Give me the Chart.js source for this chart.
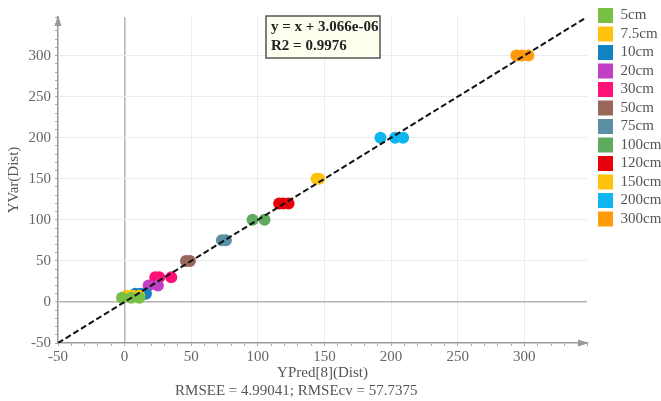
<!DOCTYPE html>
<html>
<head>
<meta charset="utf-8">
<script src="https://cdn.jsdelivr.net/npm/chart.js@4/dist/chart.umd.min.js"></script>
<style>
  html, body { margin: 0; padding: 0; background: #ffffff; }
  #wrap { width: 661px; height: 401px; }
</style>
</head>
<body>
<div id="wrap"><canvas id="c" width="661" height="401"></canvas></div>
<script>
// ---- Data ----
const categories = ['5cm', '7.5cm', '10cm', '20cm', '30cm', '50cm', '75cm', '100cm', '120cm', '150cm', '200cm', '300cm'];
const actualDist = [5, 7.5, 10, 20, 30, 50, 75, 100, 120, 150, 200, 300];
const pred5cm = [-2, 5, 11];
const pred7_5cm = [1.5, 6, 11];
const pred10cm = [8, 12, 16];
const pred20cm = [18, 25];
const pred30cm = [23, 26, 35];
const pred50cm = [46, 49];
const pred75cm = [73, 76];
const pred100cm = [96, 105];
const pred120cm = [116, 119, 123];
const pred150cm = [144, 146];
const pred200cm = [192, 203, 209];
const pred300cm = [294, 298, 303];
const predicted = [pred5cm, pred7_5cm, pred10cm, pred20cm, pred30cm, pred50cm, pred75cm, pred100cm, pred120cm, pred150cm, pred200cm, pred300cm];
const seriesColors = ['#78bf45', '#ffc20e', '#1282c4', '#c13fc4', '#ff1178', '#9a685a', '#5b8fa3', '#5eaa5f', '#e8000b', '#ffc20e', '#0fb6ee', '#ff9a0a'];
const tickLabels = [-50, 0, 50, 100, 150, 200, 250, 300];
const axisMin = -50;
const axisMax = 347;
const fitSlope = 1;
const fitIntercept = 3.066e-06;
const fitText = ['y = x + 3.066e-06', 'R2 = 0.9976'];
const xTitle = 'YPred[8](Dist)';
const xSubTitle = 'RMSEE = 4.99041; RMSEcv = 57.7375';
const yTitle = 'YVar(Dist)';

const SERIF = "'Liberation Serif', 'Times New Roman', serif";

const datasets = categories.map((name, i) => ({
  label: name,
  data: predicted[i].map(p => ({ x: p, y: actualDist[i] })),
  backgroundColor: seriesColors[i],
  borderColor: seriesColors[i],
  borderWidth: 0,
  pointRadius: 6,
  pointHoverRadius: 6,
  order: 1
}));
datasets.push({
  type: 'line',
  label: 'fit',
  data: [axisMin, axisMax].map(v => ({ x: v, y: fitSlope * v + fitIntercept })),
  borderColor: '#111',
  borderWidth: 2,
  borderDash: [6, 3],
  pointRadius: 0,
  fill: false,
  order: -1
});

function gridColor(ctx) {
  const v = ctx.tick ? ctx.tick.value : null;
  if (v === 0) return '#b4b4b4';
  if (v !== null && tickLabels.includes(v) && v !== axisMin) return '#ececec';
  return 'rgba(0,0,0,0)';
}
function gridWidth(ctx) {
  const v = ctx.tick ? ctx.tick.value : null;
  return v === 0 ? 1.5 : 1;
}
function tickCb(v) {
  return tickLabels.includes(v) ? String(v) : '';
}

const decorPlugin = {
  id: 'decor',
  afterDraw(chart) {
    const { ctx, chartArea: a } = chart;
    ctx.save();
    // axis arrows
    ctx.fillStyle = '#999';
    ctx.beginPath();
    ctx.moveTo(a.left, a.top - 2);
    ctx.lineTo(a.left - 3.5, a.top + 9);
    ctx.lineTo(a.left + 3.5, a.top + 9);
    ctx.closePath();
    ctx.fill();
    ctx.beginPath();
    ctx.moveTo(a.right + 2, a.bottom);
    ctx.lineTo(a.right - 9, a.bottom - 3.5);
    ctx.lineTo(a.right - 9, a.bottom + 3.5);
    ctx.closePath();
    ctx.fill();
    // equation box
    const bx = 266, by = 16, bw = 114, bh = 42;
    ctx.fillStyle = '#fffff0';
    ctx.fillRect(bx, by, bw, bh);
    ctx.strokeStyle = '#555';
    ctx.lineWidth = 1.5;
    ctx.strokeRect(bx, by, bw, bh);
    ctx.fillStyle = '#222';
    ctx.font = 'bold 15px ' + SERIF;
    ctx.textBaseline = 'middle';
    ctx.textAlign = 'left';
    ctx.fillText(fitText[0], bx + 5, by + 11);
    ctx.fillText(fitText[1], bx + 5, by + 30);
    ctx.restore();
  }
};

new Chart(document.getElementById('c'), {
  type: 'scatter',
  data: { datasets },
  options: {
    responsive: false,
    animation: false,
    layout: { padding: { top: 4.5, left: 0, right: 0, bottom: 0 } },
    plugins: {
      tooltip: { enabled: false },
      legend: {
        position: 'right',
        align: 'start',
        maxWidth: 66.5,
        labels: {
          filter: item => item.text !== 'fit',
          boxWidth: 15,
          boxHeight: 15,
          padding: 3.5,
          color: '#555',
          font: { family: SERIF, size: 15 }
        }
      }
    },
    scales: {
      x: {
        type: 'linear',
        position: 'bottom',
        min: axisMin,
        max: axisMax,
        afterFit: s => { s.height = 58; },
        ticks: {
          stepSize: 10,
          autoSkip: false,
          maxRotation: 0,
          padding: 2,
          color: '#666',
          font: { family: SERIF, size: 15 },
          callback: tickCb
        },
        grid: { color: gridColor, lineWidth: gridWidth, tickColor: '#aaa', tickWidth: 1, tickLength: 3 },
        border: { display: true, color: '#999', width: 1.5 },
        title: {
          display: true,
          text: [xTitle, xSubTitle + '              '],
          color: '#555',
          font: { family: SERIF, size: 15, lineHeight: 1.2 },
          padding: { top: 0, bottom: 1 }
        }
      },
      y: {
        type: 'linear',
        position: 'left',
        min: axisMin,
        max: axisMax,
        afterFit: s => { s.width = 58; },
        ticks: {
          stepSize: 10,
          autoSkip: false,
          padding: 4,
          color: '#666',
          font: { family: SERIF, size: 15 },
          callback: tickCb
        },
        grid: { color: gridColor, lineWidth: gridWidth, tickColor: '#aaa', tickWidth: 1, tickLength: 3 },
        border: { display: true, color: '#999', width: 1.5 },
        title: {
          display: true,
          text: yTitle,
          color: '#555',
          font: { family: SERIF, size: 15, lineHeight: 1.2 },
          padding: { top: 5, bottom: 0 }
        }
      },
      x2: {
        type: 'linear',
        position: 'top',
        display: true,
        afterFit: s => { s.height = 12.5; },
        ticks: { display: false },
        grid: { display: false },
        border: { display: false }
      },
      y2: {
        type: 'linear',
        position: 'right',
        display: true,
        afterFit: s => { s.width = 7.5; },
        ticks: { display: false },
        grid: { display: false },
        border: { display: false }
      }
    }
  },
  plugins: [decorPlugin]
});
</script>
</body>
</html>
